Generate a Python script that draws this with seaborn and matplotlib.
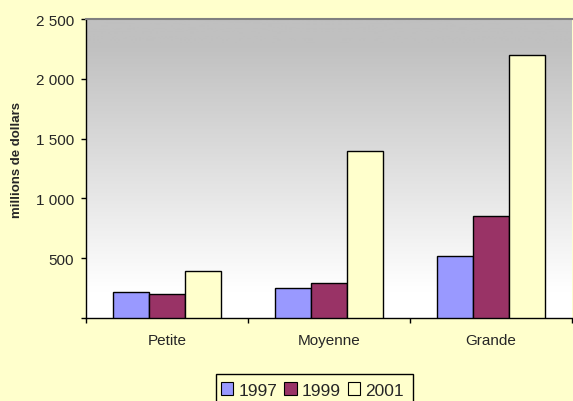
import numpy as np
import pandas as pd
import matplotlib
matplotlib.use("Agg")
import matplotlib.pyplot as plt
from matplotlib.colors import LinearSegmentedColormap
from matplotlib.patches import Rectangle
import seaborn as sns

categories = ["Petite", "Moyenne", "Grande"]
years = ["1997", "1999", "2001"]
v1997 = [220, 250, 520]
v1999 = [198, 290, 850]
v2001 = [395, 1400, 2200]
yticks = [0, 500, 1000, 1500, 2000, 2500]
ytick_labels = ["", "500", "1 000", "1 500", "2 000", "2 500"]
colors = ["#9999FF", "#993366", "#FFFFCC"]

df = pd.DataFrame({
    "taille": categories * 3,
    "annee": [y for y in years for _ in categories],
    "valeur": v1997 + v1999 + v2001,
})

sns.set_theme(style="white")
plt.rcParams["font.family"] = ["Liberation Sans", "DejaVu Sans"]

W, H = 573, 402
fig = plt.figure(figsize=(W / 100, H / 100), dpi=100, facecolor="#FFFFCC")
ax = fig.add_axes([86 / W, 1 - 319 / H, (572 - 86) / W, (319 - 20) / H])

sns.barplot(data=df, x="taille", y="valeur", hue="annee", palette=colors,
            width=0.667, edgecolor="black", linewidth=1.0, saturation=1,
            ax=ax, zorder=3)
if ax.get_legend() is not None:
    ax.get_legend().remove()

# vertical gray-to-white gradient behind the bars
grad = np.linspace(1, 0, 300).reshape(-1, 1)
cmap = LinearSegmentedColormap.from_list(
    "bg", [(0.0, "#FFFFFF"), (0.09, "#FFFFFF"), (0.92, "#C0C0C0"), (1.0, "#C0C0C0")])
ax.imshow(grad, cmap=cmap, aspect="auto", extent=[-0.5, 2.5, 0, 2500],
          origin="upper", zorder=0, vmin=0, vmax=1)
ax.set_xlim(-0.5, 2.5)
ax.set_ylim(0, 2500)

ax.spines["right"].set_visible(False)
ax.spines["top"].set_color("#808080")
ax.spines["top"].set_linewidth(1.5)
for s in ["left", "bottom"]:
    ax.spines[s].set_color("black")
    ax.spines[s].set_linewidth(1.0)

ax.set_yticks(yticks)
ax.set_yticklabels(ytick_labels, fontsize=11)
ax.set_xticks([0, 1, 2])
ax.set_xticklabels(categories, fontsize=11)
ax.set_xticks([-0.5, 0.5, 1.5, 2.5], minor=True)
ax.tick_params(axis="x", which="major", length=0, pad=11)
ax.tick_params(axis="x", which="minor", length=3.6, width=1, color="black",
               direction="out", bottom=True)
ax.tick_params(axis="y", length=3.6, width=1, color="black", direction="out",
               left=True, pad=5)
ax.set_xlabel("")
ax.set_ylabel("millions de dollars", fontsize=9.5, fontweight="bold")
ax.yaxis.set_label_coords((23 - 86) / 486, 0.532)

# legend box running off the bottom edge of the figure
fig.patches.append(Rectangle((216 / W, -0.05), 197 / W, (0.05 + 1 - 375 / H),
                             transform=fig.transFigure, facecolor="#FFFFCC",
                             edgecolor="black", linewidth=1.0, zorder=1))

handles, labels = ax.get_legend_handles_labels()
if not handles:
    handles = [Rectangle((0, 0), 1, 1, facecolor=c, edgecolor="black") for c in colors]
    labels = years
leg = fig.legend(handles, labels, loc="center left", bbox_to_anchor=(216 / W, 1 - 391 / H),
                 ncol=3, frameon=False, fontsize=12.5, handlelength=0.7, handleheight=0.7,
                 handletextpad=0.3, columnspacing=0.4, borderpad=0.3,
                 borderaxespad=0)
leg.set_zorder(2)
for h in leg.legend_handles:
    h.set_edgecolor("black")
    h.set_linewidth(0.8)

fig.savefig("out.png", dpi=100, facecolor="#FFFFCC")
